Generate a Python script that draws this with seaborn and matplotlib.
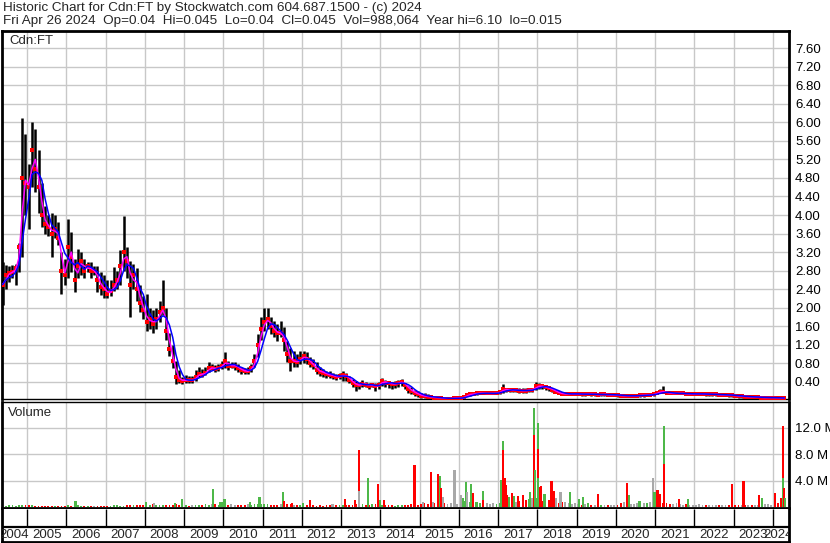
import numpy as np
import pandas as pd
import matplotlib
matplotlib.use('Agg')
import matplotlib.pyplot as plt
import seaborn as sns

# monthly bars, May 2004 .. Apr 2024 (one row per year)
price_high = [
    2.99, 2.92, 2.90, 2.92, 2.95, 3.40, 6.10, 5.75,                                  # 2004
    5.10, 6.00, 5.85, 5.40, 4.70, 4.20, 4.00, 4.05, 4.00, 3.85, 3.20, 3.05,          # 2005
    3.91, 3.63, 3.06, 3.27, 3.20, 3.06, 2.99, 2.99, 2.91, 2.91, 2.77, 2.70,          # 2006
    2.60, 2.60, 2.88, 2.80, 3.25, 3.97, 3.30, 3.00, 2.95, 2.85, 2.50, 2.25,          # 2007
    2.30, 2.00, 1.95, 2.00, 2.15, 2.60, 2.00, 1.45, 1.20, 0.85, 0.65, 0.50,          # 2008
    0.54, 0.52, 0.52, 0.65, 0.72, 0.68, 0.72, 0.83, 0.79, 0.76, 0.78, 0.86,          # 2009
    1.04, 0.86, 0.83, 0.82, 0.79, 0.72, 0.70, 0.72, 0.79, 1.01, 1.44, 1.80,          # 2010
    2.00, 2.00, 1.80, 1.72, 1.65, 1.72, 1.58, 1.29, 1.14, 1.07, 1.00, 1.07,          # 2011
    1.07, 1.04, 0.93, 0.89, 0.82, 0.71, 0.67, 0.64, 0.64, 0.60, 0.57, 0.60,          # 2012
    0.64, 0.60, 0.53, 0.46, 0.42, 0.38, 0.43, 0.40, 0.38, 0.38, 0.38, 0.40,          # 2013
    0.48, 0.43, 0.42, 0.40, 0.42, 0.43, 0.46, 0.38, 0.31, 0.28, 0.22, 0.20,          # 2014
    0.17, 0.15, 0.14, 0.12, 0.10, 0.10, 0.08, 0.07, 0.07, 0.07, 0.07, 0.07,          # 2015
    0.07, 0.10, 0.16, 0.17, 0.16, 0.17, 0.19, 0.17, 0.17, 0.17, 0.17, 0.18,          # 2016
    0.23, 0.36, 0.27, 0.26, 0.26, 0.26, 0.26, 0.26, 0.26, 0.27, 0.27, 0.40,          # 2017
    0.37, 0.36, 0.34, 0.31, 0.27, 0.23, 0.20, 0.17, 0.17, 0.17, 0.17, 0.17,          # 2018
    0.17, 0.16, 0.16, 0.17, 0.16, 0.16, 0.15, 0.16, 0.16, 0.15, 0.15, 0.15,          # 2019
    0.14, 0.13, 0.13, 0.13, 0.13, 0.13, 0.13, 0.13, 0.14, 0.15, 0.15, 0.16,          # 2020
    0.19, 0.24, 0.30, 0.20, 0.18, 0.18, 0.17, 0.17, 0.17, 0.17, 0.17, 0.17,          # 2021
    0.16, 0.16, 0.16, 0.15, 0.15, 0.15, 0.15, 0.14, 0.14, 0.14, 0.13, 0.13,          # 2022
    0.12, 0.11, 0.11, 0.10, 0.10, 0.09, 0.09, 0.09, 0.08, 0.08, 0.08, 0.08,          # 2023
    0.08, 0.07, 0.07, 0.06,                                                          # 2024
]
price_low = [
    2.06, 2.41, 2.56, 2.63, 2.49, 2.77, 3.10, 4.00,
    3.70, 4.60, 4.50, 4.05, 3.75, 3.60, 3.55, 3.10, 3.50, 3.35, 2.30, 2.50,
    2.65, 2.77, 2.34, 2.63, 2.70, 2.63, 2.77, 2.63, 2.70, 2.34, 2.27, 2.20,
    2.20, 2.25, 2.35, 2.40, 2.50, 2.80, 2.65, 1.80, 2.40, 2.15, 1.90, 1.75,
    1.50, 1.55, 1.45, 1.55, 1.70, 1.85, 1.30, 0.95, 0.70, 0.36, 0.38, 0.36,
    0.38, 0.38, 0.38, 0.42, 0.50, 0.50, 0.54, 0.61, 0.65, 0.61, 0.64, 0.68,
    0.69, 0.65, 0.69, 0.66, 0.61, 0.58, 0.56, 0.56, 0.61, 0.72, 0.94, 1.30,
    1.50, 1.55, 1.43, 1.36, 1.29, 1.36, 1.07, 0.82, 0.64, 0.71, 0.71, 0.78,
    0.80, 0.78, 0.71, 0.67, 0.57, 0.53, 0.51, 0.49, 0.48, 0.46, 0.44, 0.46,
    0.42, 0.42, 0.38, 0.28, 0.20, 0.24, 0.28, 0.28, 0.24, 0.28, 0.20, 0.24,
    0.31, 0.28, 0.27, 0.24, 0.27, 0.28, 0.31, 0.24, 0.17, 0.13, 0.10, 0.08,
    0.06, 0.05, 0.04, 0.03, 0.03, 0.02, 0.02, 0.015, 0.015, 0.02, 0.03, 0.03,
    0.03, 0.04, 0.09, 0.10, 0.11, 0.11, 0.13, 0.13, 0.13, 0.13, 0.13, 0.13,
    0.14, 0.17, 0.19, 0.19, 0.19, 0.19, 0.17, 0.17, 0.17, 0.19, 0.19, 0.23,
    0.24, 0.24, 0.23, 0.21, 0.19, 0.16, 0.13, 0.11, 0.11, 0.11, 0.11, 0.11,
    0.11, 0.10, 0.10, 0.11, 0.10, 0.10, 0.09, 0.10, 0.10, 0.09, 0.09, 0.09,
    0.08, 0.07, 0.07, 0.07, 0.07, 0.07, 0.07, 0.08, 0.08, 0.09, 0.09, 0.10,
    0.13, 0.16, 0.16, 0.14, 0.13, 0.13, 0.13, 0.13, 0.13, 0.12, 0.12, 0.12,
    0.11, 0.11, 0.11, 0.10, 0.10, 0.10, 0.10, 0.09, 0.09, 0.09, 0.08, 0.08,
    0.07, 0.06, 0.06, 0.05, 0.05, 0.04, 0.04, 0.04, 0.04, 0.035, 0.035, 0.035,
    0.035, 0.03, 0.03, 0.03,
]
price_close = [
    2.50, 2.70, 2.75, 2.78, 2.85, 3.30, 4.80, 4.70,
    4.60, 5.40, 5.00, 4.60, 4.00, 3.80, 3.75, 3.60, 3.70, 3.50, 2.80, 2.70,
    3.30, 3.10, 2.60, 2.90, 3.00, 2.80, 2.90, 2.80, 2.80, 2.60, 2.45, 2.40,
    2.30, 2.35, 2.50, 2.60, 2.90, 3.20, 3.00, 2.50, 2.70, 2.40, 2.10, 1.95,
    1.70, 1.75, 1.65, 1.75, 1.90, 2.00, 1.50, 1.10, 0.85, 0.50, 0.45, 0.42,
    0.45, 0.43, 0.43, 0.50, 0.58, 0.55, 0.60, 0.70, 0.70, 0.68, 0.70, 0.75,
    0.85, 0.75, 0.75, 0.75, 0.70, 0.65, 0.63, 0.63, 0.70, 0.85, 1.20, 1.55,
    1.70, 1.75, 1.60, 1.50, 1.45, 1.45, 1.30, 1.00, 0.85, 0.85, 0.82, 0.90,
    0.95, 0.90, 0.80, 0.76, 0.65, 0.62, 0.60, 0.56, 0.55, 0.53, 0.50, 0.52,
    0.55, 0.52, 0.45, 0.38, 0.33, 0.33, 0.36, 0.34, 0.32, 0.33, 0.30, 0.33,
    0.42, 0.38, 0.37, 0.35, 0.36, 0.38, 0.40, 0.33, 0.25, 0.20, 0.16, 0.13,
    0.10, 0.09, 0.08, 0.07, 0.06, 0.06, 0.05, 0.04, 0.04, 0.04, 0.05, 0.05,
    0.05, 0.07, 0.12, 0.13, 0.14, 0.15, 0.16, 0.15, 0.15, 0.15, 0.15, 0.16,
    0.18, 0.24, 0.23, 0.22, 0.22, 0.22, 0.21, 0.21, 0.21, 0.23, 0.23, 0.30,
    0.31, 0.30, 0.28, 0.26, 0.23, 0.19, 0.16, 0.14, 0.14, 0.14, 0.14, 0.14,
    0.14, 0.13, 0.13, 0.14, 0.13, 0.13, 0.12, 0.13, 0.13, 0.12, 0.12, 0.12,
    0.11, 0.10, 0.10, 0.10, 0.10, 0.10, 0.10, 0.11, 0.11, 0.12, 0.12, 0.13,
    0.16, 0.19, 0.18, 0.17, 0.15, 0.15, 0.15, 0.15, 0.15, 0.14, 0.14, 0.14,
    0.14, 0.14, 0.14, 0.13, 0.13, 0.13, 0.13, 0.12, 0.12, 0.12, 0.11, 0.11,
    0.10, 0.09, 0.09, 0.08, 0.08, 0.07, 0.07, 0.07, 0.06, 0.06, 0.06, 0.06,
    0.06, 0.05, 0.05, 0.045,
]
# monthly background volume, millions of shares
volume_month = [
    0.15, 0.20, 0.30, 0.35, 0.20, 0.30, 0.35, 0.30,
    0.30, 0.35, 0.25, 0.20, 0.15, 0.20, 0.25, 0.15, 0.20, 0.15, 0.20, 0.25,
    0.30, 0.20, 0.50, 0.30, 0.20, 0.15, 0.15, 0.20, 0.15, 0.20, 0.25, 0.20,
    0.20, 0.25, 0.30, 0.30, 0.20, 0.25, 0.35, 0.30, 0.35, 0.40, 0.30, 0.35,
    0.40, 0.30, 0.45, 0.30, 0.30, 0.35, 0.30, 0.30, 0.40, 0.50, 0.35, 0.30,
    0.30, 0.25, 0.30, 0.35, 0.30, 0.40, 0.50, 0.40, 0.50, 0.55, 0.35, 0.30,
    0.40, 0.35, 0.30, 0.30, 0.30, 0.35, 0.30, 0.45, 0.40, 0.50, 0.55, 0.50,
    0.50, 0.45, 0.40, 0.35, 0.30, 0.50, 0.40, 0.45, 0.50, 0.40, 0.35, 0.40,
    0.40, 0.35, 0.40, 0.30, 0.25, 0.30, 0.25, 0.30, 0.30, 0.35, 0.30, 0.30,
    0.35, 0.30, 0.35, 0.40, 0.50, 0.45, 0.50, 0.40, 0.35, 0.45, 0.50, 0.40,
    0.40, 0.35, 0.30, 0.30, 0.25, 0.30, 0.35, 0.30, 0.35, 0.40, 0.35, 0.30,
    0.50, 0.60, 0.50, 0.70, 0.60, 0.80, 0.70, 0.60, 0.50, 0.70, 0.60, 0.50,
    0.90, 1.00, 0.80, 0.90, 0.70, 0.80, 0.60, 0.90, 0.70, 0.50, 0.60, 0.50,
    0.60, 1.20, 1.40, 1.10, 1.00, 0.90, 1.00, 1.20, 1.10, 1.30, 1.50, 1.40,
    1.20, 1.00, 0.90, 1.10, 0.90, 0.80, 0.70, 0.80, 0.90, 0.60, 0.50, 0.60,
    0.50, 0.40, 0.50, 0.60, 0.40, 0.40, 0.30, 0.40, 0.30, 0.40, 0.30, 0.30,
    0.40, 0.60, 0.80, 0.70, 0.50, 0.50, 0.60, 0.50, 0.60, 0.70, 0.90, 0.80,
    0.90, 0.80, 0.70, 0.60, 0.50, 0.50, 0.60, 0.50, 0.40, 0.50, 0.40, 0.40,
    0.40, 0.50, 0.40, 0.40, 0.30, 0.40, 0.30, 0.30, 0.30, 0.40, 0.30, 0.50,
    0.40, 0.30, 0.40, 0.30, 0.40, 0.30, 0.30, 0.40, 0.40, 0.50, 0.50, 0.40,
    0.50, 0.60, 0.80, 0.90,
]

# heavy volume days: date (decimal year), volume (M), direction
spike_date = [2006.23, 2008.03, 2008.24, 2008.77, 2008.94, 2009.73, 2009.92, 2009.96, 2010.03,
              2010.19, 2010.68, 2010.92, 2011.51, 2011.54, 2011.74, 2012.02, 2012.21, 2012.78,
              2013.10, 2013.35, 2013.45, 2013.45, 2013.68, 2013.93, 2013.99, 2014.09,
              2014.77, 2014.87, 2015.09, 2015.28, 2015.35, 2015.46, 2015.51, 2015.54, 2015.60,
              2015.89, 2016.05, 2016.10, 2016.18, 2016.20, 2016.30, 2016.35, 2016.44, 2016.61,
              2016.62, 2017.07, 2017.09, 2017.12, 2017.12, 2017.16, 2017.19, 2017.22, 2017.27,
              2017.35, 2017.40, 2017.51, 2017.64, 2017.71, 2017.81, 2017.86, 2017.91, 2017.91,
              2017.93, 2018.01, 2018.01, 2018.01, 2018.06, 2018.09, 2018.18, 2018.36, 2018.43,
              2018.47, 2018.59, 2018.84, 2019.07, 2019.17, 2019.54, 2020.28, 2020.33, 2020.60,
              2020.94, 2020.97, 2021.01, 2021.06, 2021.11, 2021.22, 2021.22, 2021.60, 2021.84,
              2022.95, 2023.25, 2023.65, 2023.73, 2024.05, 2024.20, 2024.25, 2024.25, 2024.29,
              2024.31]
spike_volume = [0.95, 0.8, 0.6, 0.65, 1.25, 2.75, 0.9, 0.85, 1.35,
                0.45, 0.8, 1.55, 2.35, 1.0, 0.65, 0.75, 1.1, 0.5,
                1.25, 1.1, 8.75, 2.5, 4.4, 3.5, 1.1, 1.1,
                0.46, 6.35, 0.8, 5.4, 0.9, 5.1, 4.8, 2.9, 1.6,
                5.6, 1.85, 1.5, 3.9, 2.4, 3.5, 2.2, 0.9, 2.5,
                1.1, 4.15, 4.2, 10.05, 8.67, 4.46, 3.4, 1.85, 1.6,
                2.2, 1.7, 1.8, 1.9, 1.2, 2.4, 1.5, 15.0, 11.0,
                5.7, 12.7, 8.9, 4.4, 3.1, 3.3, 2.0, 4.05, 2.5,
                1.5, 2.4, 2.4, 1.3, 1.6, 2.1, 3.7, 1.85, 1.0,
                4.5, 2.4, 2.3, 2.7, 2.0, 12.35, 6.6, 1.3, 1.3,
                3.5, 4.05, 1.9, 1.4, 2.2, 1.4, 12.35, 4.4, 2.9,
                1.4]
spike_dir = ['up', 'up', 'flat', 'up', 'up', 'up', 'up', 'up', 'up',
             'flat', 'up', 'up', 'up', 'down', 'down', 'up', 'down', 'flat',
             'down', 'down', 'down', 'flat', 'up', 'down', 'up', 'down',
             'down', 'down', 'flat', 'down', 'flat', 'down', 'up', 'down', 'flat',
             'flat', 'flat', 'up', 'up', 'flat', 'up', 'down', 'up', 'up',
             'down', 'up', 'up', 'up', 'down', 'down', 'down', 'down', 'up',
             'down', 'up', 'down', 'down', 'down', 'up', 'flat', 'up', 'down',
             'up', 'up', 'down', 'up', 'down', 'down', 'up', 'down', 'down',
             'flat', 'flat', 'up', 'up', 'up', 'down', 'down', 'up', 'up',
             'flat', 'up', 'up', 'down', 'down', 'up', 'down', 'down', 'up',
             'down', 'down', 'down', 'up', 'down', 'down', 'down', 'up', 'down',
             'up']

year_labels = list(range(2004, 2025))

dir_colors = {'up': '#4db848', 'down': '#ff0000', 'flat': '#a8a8a8'}
grid_col = '#c8c8c8'
fs = 9.5

months = pd.date_range('2004-05-01', periods=len(price_close), freq='MS')
df = pd.DataFrame({'t': months.year + (months.month - 0.5) / 12,
                   'high': price_high, 'low': price_low, 'close': price_close,
                   'vol': volume_month})
# 20-day and 50-day style moving averages on the monthly closes
df['ma_fast'] = df['close'].rolling(2, min_periods=1).mean()
df['ma_slow'] = df['close'].rolling(4, min_periods=1).mean()
chg = df['close'].diff().fillna(0)
df['dir'] = np.where(chg > 0, 'up', np.where(chg < 0, 'down', 'flat'))

sns.set_style('white')
plt.rcParams['font.family'] = ['Liberation Sans', 'DejaVu Sans']

W, H = 830, 543
fig = plt.figure(figsize=(W / 100, H / 100), dpi=100)

def box(x0, y0, x1, y1):
    return [x0 / W, 1 - y1 / H, (x1 - x0) / W, (y1 - y0) / H]

xlim = (2004.36, 2024.41)
ax_p = fig.add_axes(box(2, 31, 789, 399))
ax_v = fig.add_axes(box(2, 402, 789, 508))
ax_x = fig.add_axes(box(2, 509, 789, 542))

for ax in (ax_p, ax_v):
    ax.set_xlim(*xlim)
    ax.set_xticks(range(2005, 2025))
    ax.tick_params(axis='x', length=0, labelbottom=False)
    ax.yaxis.tick_right()
    ax.tick_params(axis='y', length=0, pad=4.3, labelsize=fs, colors='black')
    ax.grid(True, color=grid_col, lw=1.0)
    ax.set_axisbelow(True)
    for s in ax.spines.values():
        s.set_color('black')

# price panel
ax_p.vlines(df['t'], df['low'], df['high'], color='black', lw=1.8, zorder=2)
sns.scatterplot(data=df, x='t', y='close', color='#ff0000', marker='s', s=5,
                linewidth=0, ax=ax_p, zorder=3)
sns.lineplot(data=df, x='t', y='ma_fast', color='#ff00ff', lw=1.1, ax=ax_p, zorder=4)
sns.lineplot(data=df, x='t', y='ma_slow', color='#0000ff', lw=1.1, ax=ax_p, zorder=5)
ax_p.set_ylim(0.03, 7.97)
ax_p.set_yticks(np.arange(0.4, 7.61, 0.4))
ax_p.set_yticklabels([f'{v:.2f}' for v in np.arange(0.4, 7.61, 0.4)])
ax_p.set_xlabel('')
ax_p.set_ylabel('')
ax_p.spines['top'].set_linewidth(2)
ax_p.spines['left'].set_linewidth(2)
ax_p.spines['right'].set_linewidth(2)
ax_p.spines['bottom'].set_linewidth(1)

# volume panel
ax_v.bar(df['t'], df['vol'], width=0.045, color=[dir_colors[d] for d in df['dir']],
         linewidth=0, antialiased=False, zorder=2)
for t, v, d in zip(spike_date, spike_volume, spike_dir):
    ax_v.bar(t, v, width=0.056, color=dir_colors[d], linewidth=0, antialiased=False, zorder=3)
ax_v.set_ylim(-0.08, 15.92)
ax_v.set_yticks([4, 8, 12])
ax_v.set_yticklabels(['4.0 M', '8.0 M', '12.0 M'])
ax_v.spines['top'].set_linewidth(1)
ax_v.spines['left'].set_linewidth(2)
ax_v.spines['right'].set_linewidth(2)
ax_v.spines['bottom'].set_linewidth(2)

# year strip
ax_x.set_xlim(*xlim)
ax_x.set_ylim(0, 1)
ax_x.set_xticks([])
ax_x.set_yticks([])
ax_x.spines['top'].set_visible(False)
for s in ('left', 'right', 'bottom'):
    ax_x.spines[s].set_linewidth(2)
    ax_x.spines[s].set_color('black')
sep = 15 / 33
ax_x.axhline(sep, color='black', lw=1.6)
ax_x.vlines(range(2005, 2025), sep, 1, color='black', lw=1.0)
for yr in year_labels:
    c = (max(yr, xlim[0]) + min(yr + 1, xlim[1])) / 2
    c = min(c, xlim[1] - 0.27)
    ax_x.text(c, 0.22, str(yr), ha='center', va='center', fontsize=fs, clip_on=True)

fig.text(3 / W, 1 - 8 / H, 'Historic Chart for Cdn:FT by Stockwatch.com 604.687.1500 - (c) 2024',
         ha='left', va='center', fontsize=9.7)
fig.text(3 / W, 1 - 21 / H,
         'Fri Apr 26 2024  Op=0.04  Hi=0.045  Lo=0.04  Cl=0.045  Vol=988,064  Year hi=6.10  lo=0.015',
         ha='left', va='center', fontsize=9.7)
fig.text(9 / W, 1 - 41 / H, 'Cdn:FT', ha='left', va='center', fontsize=fs)
fig.text(8 / W, 1 - 413 / H, 'Volume', ha='left', va='center', fontsize=fs)

fig.savefig('out.png', dpi=100)
